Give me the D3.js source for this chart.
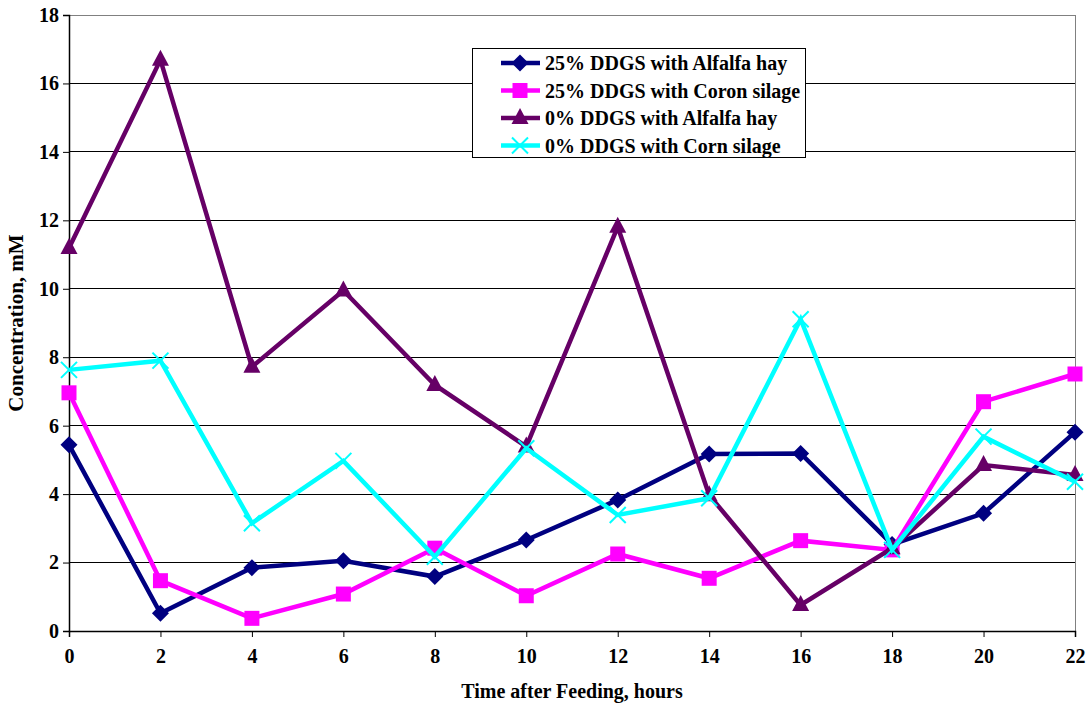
<!DOCTYPE html>
<html>
<head>
<meta charset="utf-8">
<script src="https://cdn.jsdelivr.net/npm/d3@7"></script>
<style>
	body { margin: 0; background: #fff; }
	text { font-family: "Liberation Serif", "Times New Roman", serif; font-weight: bold; }
</style>
</head>
<body>
<svg id="chart" width="1089" height="707"></svg>
<script>
var hours = [0, 2, 4, 6, 8, 10, 12, 14, 16, 18, 20, 22];
var yTicks = [0, 2, 4, 6, 8, 10, 12, 14, 16, 18];
var seriesNames = ["25% DDGS with Alfalfa hay", "25% DDGS with Coron silage",
	"0% DDGS with Alfalfa hay", "0% DDGS with Corn silage"];
var alfalfa25 = [5.44, 0.52, 1.85, 2.05, 1.59, 2.66, 3.83, 5.17, 5.19, 2.53, 3.44, 5.81];
var corn25 = [6.96, 1.47, 0.37, 1.08, 2.42, 1.03, 2.25, 1.54, 2.64, 2.37, 6.70, 7.51];
var alfalfa0 = [11.19, 16.69, 7.72, 9.95, 7.19, 5.39, 11.81, 3.97, 0.76, 2.42, 4.85, 4.56];
var corn0 = [7.63, 7.90, 3.15, 4.97, 2.17, 5.34, 3.39, 3.88, 9.11, 2.37, 5.68, 4.36];

var colors = ["#000080", "#ff00ff", "#660066", "#00ffff"];
var symbols = ["diamond", "square", "triangle", "cross"];
var allSeries = [alfalfa25, corn25, alfalfa0, corn0];

var svg = d3.select("#chart");
var plotLeft = 69, plotRight = 1075, plotTop = 15, plotBottom = 631;

var xScale = d3.scalePoint().domain(hours).range([plotLeft, plotRight]);
var yScale = d3.scaleLinear().domain([0, 18]).range([plotBottom, plotTop]);

// gridlines
svg.append("g").selectAll("line")
	.data(yTicks.slice(1))
	.join("line")
	.attr("x1", plotLeft).attr("x2", plotRight)
	.attr("y1", d => yScale(d)).attr("y2", d => yScale(d))
	.attr("stroke", "#000").attr("stroke-width", 1)
	.attr("shape-rendering", "crispEdges");

// plot border (grey)
svg.append("rect")
	.attr("x", plotLeft).attr("y", plotTop)
	.attr("width", plotRight - plotLeft).attr("height", plotBottom - plotTop)
	.attr("fill", "none").attr("stroke", "#808080")
	.attr("shape-rendering", "crispEdges");

// axes
var xAxis = d3.axisBottom(xScale).tickSize(6).tickPadding(12);
var yAxis = d3.axisLeft(yScale).tickValues(yTicks).tickSize(6).tickPadding(4);

var gx = svg.append("g").attr("transform", "translate(0," + plotBottom + ")").call(xAxis);
var gy = svg.append("g").attr("transform", "translate(" + plotLeft + ",0)").call(yAxis);
[gx, gy].forEach(function(g) {
	g.attr("font-family", null);
	g.select(".domain").attr("stroke", "#000").attr("stroke-width", 1.5);
	g.selectAll(".tick line").attr("stroke", "#000");
	g.selectAll("text").attr("fill", "#000")
		.style("font-family", "'Liberation Serif', serif").style("font-weight", "bold").style("font-size", "20px");
});

// lines and markers
var line = d3.line()
	.x((d, i) => xScale(hours[i]))
	.y(d => yScale(d));

function markerPath(kind) {
	if (kind == "diamond") return "M0,-8.5L8.5,0L0,8.5L-8.5,0Z";
	if (kind == "square") return "M-7.5,-7.5H7.5V7.5H-7.5Z";
	if (kind == "triangle") return "M0,-10L8.5,6H-8.5Z";
	return "M-8,-8L8,8M-8,8L8,-8";
}

allSeries.forEach(function(vals, s) {
	var g = svg.append("g");
	g.append("path")
		.attr("d", line(vals))
		.attr("fill", "none")
		.attr("stroke", colors[s])
		.attr("stroke-width", 4.5)
		.attr("stroke-linejoin", "miter");
	g.selectAll("path.mk")
		.data(vals)
		.join("path")
		.attr("class", "mk")
		.attr("transform", (d, i) => "translate(" + xScale(hours[i]) + "," + yScale(d) + ")")
		.attr("d", markerPath(symbols[s]))
		.attr("fill", symbols[s] == "cross" ? "none" : colors[s])
		.attr("stroke", colors[s])
		.attr("stroke-width", symbols[s] == "cross" ? 2 : 0);
});

// axis titles
svg.append("text")
	.attr("x", (plotLeft + plotRight) / 2).attr("y", 698)
	.attr("text-anchor", "middle")
	.style("font-size", "20px")
	.text("Time after Feeding, hours");

svg.append("text")
	.attr("transform", "translate(23," + (plotTop + plotBottom) / 2 + ") rotate(-90)")
	.attr("text-anchor", "middle")
	.style("font-size", "21px")
	.text("Concentration, mM");

// legend
var lg = svg.append("g");
lg.append("rect")
	.attr("x", 472).attr("y", 48)
	.attr("width", 333).attr("height", 109)
	.attr("fill", "#fff").attr("stroke", "#000")
	.attr("shape-rendering", "crispEdges");

seriesNames.forEach(function(name, i) {
	var cy = 63 + i * 27.5;
	lg.append("line")
		.attr("x1", 501).attr("x2", 540)
		.attr("y1", cy).attr("y2", cy)
		.attr("stroke", colors[i]).attr("stroke-width", 4.5);
	lg.append("path")
		.attr("transform", "translate(520," + cy + ")")
		.attr("d", markerPath(symbols[i]))
		.attr("fill", symbols[i] == "cross" ? "none" : colors[i])
		.attr("stroke", colors[i])
		.attr("stroke-width", symbols[i] == "cross" ? 2 : 0);
	lg.append("text")
		.attr("x", 545).attr("y", cy + 7)
		.style("font-size", "20px")
		.text(name);
});
</script>
</body>
</html>
